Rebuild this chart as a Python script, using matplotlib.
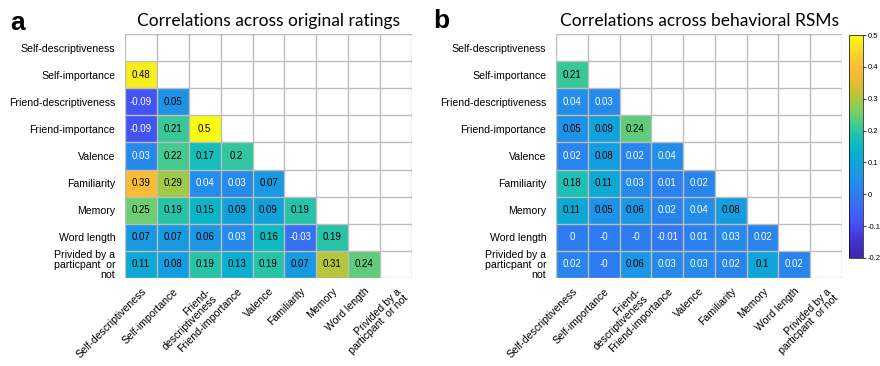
import numpy as np
import matplotlib
matplotlib.use("Agg")
import matplotlib.pyplot as plt
from matplotlib.colors import LinearSegmentedColormap

plt.rcParams['font.family'] = ['Liberation Sans', 'DejaVu Sans']

row_labels = ["Self-descriptiveness", "Self-importance", "Friend-descriptiveness",
              "Friend-importance", "Valence", "Familiarity", "Memory", "Word length",
              "Privided by a\nparticpant  or\nnot"]
col_labels = ["Self-descriptiveness", "Self-importance", "Friend-\ndescriptiveness",
              "Friend-importance", "Valence", "Familiarity", "Memory", "Word length",
              "Privided by a\nparticpant  or not"]

# lower-triangle values, row by row (row i has i entries)
orig_rows = [
    [],
    [0.48],
    [-0.09, 0.05],
    [-0.09, 0.21, 0.5],
    [0.03, 0.22, 0.17, 0.2],
    [0.39, 0.29, 0.04, 0.03, 0.07],
    [0.25, 0.19, 0.15, 0.09, 0.09, 0.19],
    [0.07, 0.07, 0.06, 0.03, 0.16, -0.03, 0.19],
    [0.11, 0.08, 0.19, 0.13, 0.19, 0.07, 0.31, 0.24],
]
rsm_rows = [
    [],
    [0.21],
    [0.04, 0.03],
    [0.05, 0.09, 0.24],
    [0.02, 0.08, 0.02, 0.04],
    [0.18, 0.11, 0.03, 0.01, 0.02],
    [0.11, 0.05, 0.06, 0.02, 0.04, 0.08],
    [0.0, -0.0, -0.0, -0.01, 0.01, 0.03, 0.02],
    [0.02, -0.0, 0.06, 0.03, 0.03, 0.02, 0.1, 0.02],
]
orig_text = [[], ["0.48"], ["-0.09", "0.05"], ["-0.09", "0.21", "0.5"],
             ["0.03", "0.22", "0.17", "0.2"], ["0.39", "0.29", "0.04", "0.03", "0.07"],
             ["0.25", "0.19", "0.15", "0.09", "0.09", "0.19"],
             ["0.07", "0.07", "0.06", "0.03", "0.16", "-0.03", "0.19"],
             ["0.11", "0.08", "0.19", "0.13", "0.19", "0.07", "0.31", "0.24"]]
rsm_text = [[], ["0.21"], ["0.04", "0.03"], ["0.05", "0.09", "0.24"],
            ["0.02", "0.08", "0.02", "0.04"], ["0.18", "0.11", "0.03", "0.01", "0.02"],
            ["0.11", "0.05", "0.06", "0.02", "0.04", "0.08"],
            ["0", "-0", "-0", "-0.01", "0.01", "0.03", "0.02"],
            ["0.02", "-0", "0.06", "0.03", "0.03", "0.02", "0.1", "0.02"]]

titles = ["Correlations across original ratings", "Correlations across behavioral RSMs"]
panel_letters = ["a", "b"]
cbar_ticks = [-0.2, -0.1, 0, 0.1, 0.2, 0.3, 0.4, 0.5]
cbar_ticklabels = ["-0.2", "-0.1", "0", "0.1", "0.2", "0.3", "0.4", "0.5"]
vmin, vmax = -0.2, 0.5

parula_pts = [
    (0.000, (0.2422, 0.1504, 0.6603)),
    (0.080, (0.2650, 0.2000, 0.8300)),
    (0.157, (0.2650, 0.3300, 0.9500)),
    (0.220, (0.2300, 0.4100, 0.9700)),
    (0.290, (0.1750, 0.4950, 0.9400)),
    (0.340, (0.1400, 0.5550, 0.9200)),
    (0.400, (0.0800, 0.6200, 0.8800)),
    (0.450, (0.0400, 0.6700, 0.8300)),
    (0.500, (0.0300, 0.7100, 0.7800)),
    (0.550, (0.1300, 0.7600, 0.6800)),
    (0.600, (0.2700, 0.7900, 0.5600)),
    (0.650, (0.4500, 0.8100, 0.4200)),
    (0.700, (0.6200, 0.7900, 0.2800)),
    (0.750, (0.7800, 0.7600, 0.2000)),
    (0.800, (0.9200, 0.7400, 0.2000)),
    (0.850, (0.9900, 0.7300, 0.2200)),
    (0.920, (0.9800, 0.8300, 0.1700)),
    (1.000, (0.9769, 0.9839, 0.0805)),
]
parula = LinearSegmentedColormap.from_list("parula", parula_pts)

W, H = 880, 366
fig = plt.figure(figsize=(W / 100, H / 100), dpi=100)


def px_axes(x0, y0, x1, y1):
    return fig.add_axes([x0 / W, 1 - y1 / H, (x1 - x0) / W, (y1 - y0) / H])


def build(rows):
    n = len(rows)
    m = np.full((n, n), np.nan)
    for i, r in enumerate(rows):
        for j, v in enumerate(r):
            m[i, j] = v
    return m


def draw(ax, rows, texts, title):
    m = build(rows)
    n = m.shape[0]
    ax.set_facecolor("white")
    mm = np.ma.masked_invalid(m)
    im = ax.pcolormesh(np.arange(n + 1), np.arange(n + 1), mm, cmap=parula,
                       vmin=vmin, vmax=vmax, edgecolors="none")
    for k in range(n + 1):
        ax.axhline(k, color="#bdbdbd", lw=1.0)
        ax.axvline(k, color="#bdbdbd", lw=1.0)
    for i, r in enumerate(rows):
        for j, v in enumerate(r):
            ax.add_patch(plt.Rectangle((j, i), 1, 1, fill=False, ec="#4a4a4a", lw=0.5))
            col = "black" if v >= 0.05 else "white"
            ax.text(j + 0.5, i + 0.5, texts[i][j], ha="center", va="center",
                    fontsize=6.9, color=col)
    ax.set_xlim(0, n)
    ax.set_ylim(n, 0)
    ax.set_xticks(np.arange(n) + 0.5)
    ax.set_yticks(np.arange(n) + 0.5)
    ax.set_xticklabels(col_labels, rotation=45, ha="right", rotation_mode="anchor",
                       fontsize=7.6, linespacing=1.0)
    ax.set_yticklabels(row_labels, fontsize=7.6, linespacing=1.0)
    ax.tick_params(axis="y", length=0, pad=7)
    ax.tick_params(axis="x", length=0, pad=6)
    for s in ax.spines.values():
        s.set_visible(False)
    ax.set_title(title, fontsize=12.5, pad=6, family=["Lato", "DejaVu Sans"])
    return im


ax1 = px_axes(125, 34, 412, 278)
draw(ax1, orig_rows, orig_text, titles[0])
ax2 = px_axes(556, 34, 842, 278)
im = draw(ax2, rsm_rows, rsm_text, titles[1])

cax = px_axes(849, 35, 863, 258)
cb = fig.colorbar(im, cax=cax, ticks=cbar_ticks)
cb.ax.set_yticklabels(cbar_ticklabels, fontsize=5.5)
cb.ax.tick_params(length=2, width=0.5, pad=1.5)
cb.outline.set_linewidth(0.5)

fig.text(10 / W, 1 - 30 / H, panel_letters[0], fontsize=19, fontweight="bold")
fig.text(433 / W, 1 - 28 / H, panel_letters[1], fontsize=19, fontweight="bold")

fig.savefig("out.png", dpi=100, facecolor="white")
